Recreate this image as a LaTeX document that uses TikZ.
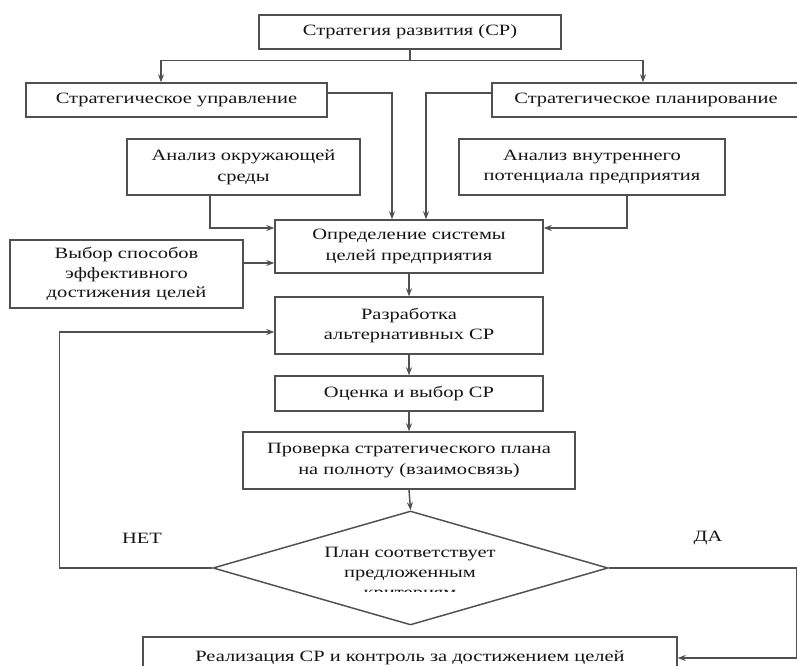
\documentclass[tikz,border=0pt]{standalone}
\usepackage{fontspec}
\setmainfont[FakeStretch=1.3]{Liberation Serif}
\usetikzlibrary{calc,arrows.meta,shapes.geometric}
\definecolor{linec}{HTML}{505050}
\definecolor{textc}{HTML}{151515}
\begin{document}
\begin{tikzpicture}[x=0.75pt,y=-0.75pt,
  box/.style={draw=linec, line width=1.1pt, rectangle, inner sep=0pt, align=center,
    text=textc, font=\fontsize{11.8}{15.5}\selectfont},
  conn/.style={draw=linec, line width=1.1pt},
  arr/.style={conn, -{Stealth[length=6pt,width=4.5pt]}},
  lbl/.style={text=textc, inner sep=0pt, align=center, font=\fontsize{11.8}{15}\selectfont}]
\useasboundingbox (0,0) rectangle (797,666);
\clip (0,0) rectangle (797,666);
\fill[white] (0,0) rectangle (797,666);

% boxes
\node[box, minimum width=302*0.75pt, minimum height=34*0.75pt] (top) at (410,32) {Стратегия развития (СР)};
\node[box, minimum width=301*0.75pt, minimum height=34*0.75pt] (su) at (176.5,100) {Стратегическое управление};
\node[box, minimum width=308*0.75pt, minimum height=34*0.75pt] (sp) at (646,100) {Стратегическое планирование};
\node[box, minimum width=233*0.75pt, minimum height=56*0.75pt] (aos) at (243.5,167) {Анализ окружающей\\среды};
\node[box, minimum width=266*0.75pt, minimum height=56*0.75pt] (avp) at (592,167) {Анализ внутреннего\\потенциала предприятия};
\node[box, minimum width=268*0.75pt, minimum height=53*0.75pt] (ops) at (409,246.5) {Определение системы\\целей предприятия};
\node[box, minimum width=233*0.75pt, minimum height=68*0.75pt, font=\fontsize{11.8}{14.5}\selectfont] (vsp) at (126.5,274) {Выбор способов\\эффективного\\достижения целей};
\node[box, minimum width=268*0.75pt, minimum height=57*0.75pt] (ras) at (409,325.5) {Разработка\\альтернативных СР};
\node[box, minimum width=268*0.75pt, minimum height=35*0.75pt] (oce) at (409,393.5) {Оценка и выбор СР};
\node[box, minimum width=332*0.75pt, minimum height=57*0.75pt] (pro) at (409,460.5) {Проверка стратегического плана\\на полноту (взаимосвязь)};
\node[draw=linec, line width=1.1pt, diamond, inner sep=0pt, minimum width=395*0.75pt, minimum height=114*0.75pt] (dia) at (410.5,568) {};
\begin{scope}
  \clip (250,530) rectangle (570,592);
  \node[lbl] (dtext) at (410,574) {План соответствует\\предложенным\\критериям};
\end{scope}
\node[box, minimum width=534*0.75pt, minimum height=42*0.75pt] (bot) at (410,658) {Реализация СР и контроль за достижением целей};

% labels
\node[lbl] (net) at (142,538) {НЕТ};
\node[lbl] (da) at (708,538) {ДА};

% connectors
\draw[conn] (top.south) -- ++(0,11) coordinate (tb);
\draw[arr] (tb) -| ($(su.north)+(-15.5,0)$);
\draw[arr] (tb) -| ($(sp.north)+(-3,0)$);
\draw[arr] ($(su.east)+(0,-7)$) -| ($(ops.north)+(-17,0)$);
\draw[arr] ($(sp.west)+(0,-7)$) -| ($(ops.north)+(17,0)$);
\draw[arr] ($(aos.south)+(-33.5,0)$) |- ($(ops.west)+(0,-18.5)$);
\draw[arr] ($(avp.south)+(35,0)$) |- ($(ops.east)+(0,-18.5)$);
\draw[arr] ($(vsp.east)+(0,-11)$) coordinate (v1) -- (v1 -| ops.west);
\draw[arr] (ops.south) -- (ras.north);
\draw[arr] (ras.south) -- (oce.north);
\draw[arr] (oce.south) -- (pro.north);
\draw[arr] (pro.south) -- (dia.north);
\draw[arr] (dia.west) -- ++(-153,0) |- ($(ras.west)+(0,6.5)$);
\draw[arr] (dia.east) -- ++(188,0) |- (bot.east);
\end{tikzpicture}
\end{document}
